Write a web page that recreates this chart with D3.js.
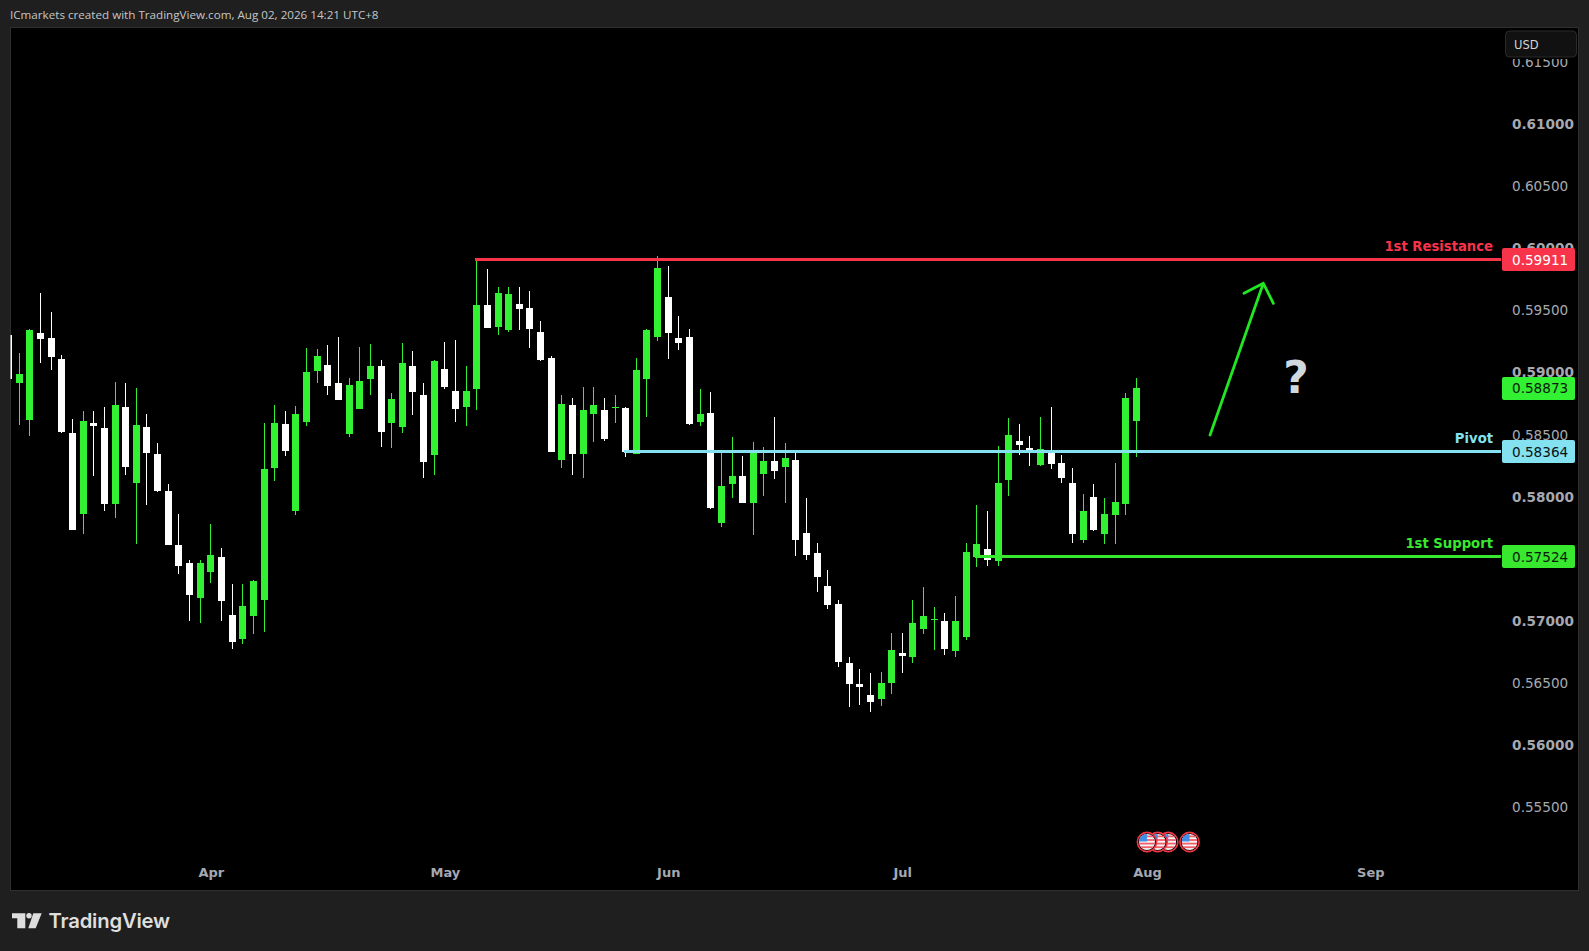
<!DOCTYPE html>
<html>
<head>
<meta charset="utf-8">
<title>Chart</title>
<script src="https://cdnjs.cloudflare.com/ajax/libs/d3/7.8.5/d3.min.js"></script>
<style>
  html, body { margin: 0; padding: 0; background: #1f1f1f; overflow: hidden; }
  svg { display: block; }
  text { font-family: "DejaVu Sans", sans-serif; }
</style>
</head>
<body>
<div id="chart"></div>
<script>
// daily candles (first one is cut by the left edge)
const opens = [
  .59303,.58916,.58618,.59319,.59279,.59110,.58513,.57860,.58594,.58554,.57941,.58723,.58110,.58562,.58344,.58046,.57610,.57465,
  .57183,.57393,.57514,.57046,.56853,.57038,.57167,.58231,.58586,.57884,.58602,.59013,.59061,.58916,.58505,.58707,.58949,.59053,
  .58594,.58562,.59053,.58820,.58336,.59029,.58852,.58723,.58868,.59545,.59368,.59344,.59553,.59521,.59327,.59118,.58296,.58739,
  .58344,.58666,.58699,.58715,.58715,.58344,.58949,.59287,.59610,.59279,.59287,.58602,.58674,.57788,.58102,.58167,.57949,.58183,
  .58288,.58239,.58296,.57707,.57546,.57280,.57135,.56659,.56490,.56401,.56369,.56498,.56740,.56708,.56933,.57006,.56998,.56756,
  .56869,.57514,.57578,.57481,.58134,.58449,.58392,.58255,.58368,.58271,.58110,.57651,.57997,.57699,.57852,.57941,.58610
];
const highs = [
  .59303,.59158,.59352,.59642,.59489,.59142,.58626,.58691,.58691,.58723,.58924,.58916,.58876,.58666,.58433,.58102,.57860,.57489,
  .57489,.57780,.57586,.57296,.57296,.57328,.58594,.58739,.58691,.58731,.59198,.59190,.59223,.59287,.58957,.59206,.59231,.59102,
  .58836,.59239,.59174,.58916,.59102,.59247,.59263,.59053,.59916,.59835,.59690,.59690,.59690,.59658,.59416,.59134,.58820,.58795,
  .58884,.58884,.58795,.58820,.58723,.59118,.59352,.59940,.59859,.59456,.59352,.58868,.58844,.58368,.58481,.58328,.58441,.58400,
  .58642,.58433,.58376,.57989,.57626,.57409,.57167,.56708,.56611,.56579,.56587,.56901,.56901,.57167,.57272,.57111,.57062,.57199,
  .57626,.57933,.57884,.58408,.58634,.58586,.58489,.58642,.58723,.58336,.58231,.58022,.58102,.57989,.58271,.58836,.58957
];
const lows = [
  .58949,.58578,.58489,.59077,.59021,.58513,.57731,.57699,.58167,.57884,.57828,.58175,.57618,.57933,.58038,.57610,.57377,.56998,
  .56982,.57304,.56998,.56772,.56812,.56893,.56909,.58126,.58328,.57852,.58570,.58916,.58820,.58779,.58481,.58707,.58820,.58400,
  .58392,.58513,.58658,.58150,.58175,.58868,.58602,.58570,.58699,.59360,.59303,.59327,.59344,.59198,.59094,.58360,.58231,.58175,
  .58150,.58441,.58449,.58594,.58320,.58344,.58642,.59255,.59110,.59182,.58578,.58570,.57901,.57755,.57989,.57949,.57691,.58005,
  .58142,.57949,.57522,.57489,.57232,.57094,.56627,.56304,.56321,.56264,.56313,.56409,.56579,.56659,.56893,.56764,.56724,.56708,
  .56845,.57433,.57441,.57441,.58005,.58336,.58247,.58247,.58223,.58110,.57626,.57626,.57723,.57618,.57618,.57852,.58320
];
const closes = [
  .58949,.58989,.59344,.59271,.59126,.58521,.57731,.58610,.58570,.57941,.58739,.58239,.58578,.58352,.58046,.57610,.57441,.57207,
  .57465,.57530,.57159,.56828,.57119,.57320,.58223,.58594,.58368,.58666,.59005,.59134,.58892,.58779,.58900,.58932,.59053,.58521,
  .58787,.59077,.58844,.58279,.59094,.58884,.58707,.58852,.59545,.59360,.59642,.59634,.59513,.59352,.59102,.58360,.58747,.58344,
  .58699,.58739,.58465,.58723,.58360,.59021,.59344,.59843,.59319,.59239,.58586,.58666,.57909,.58086,.58167,.57949,.58360,.58288,
  .58207,.58312,.57651,.57530,.57352,.57127,.56667,.56490,.56466,.56345,.56498,.56764,.56716,.56982,.57038,.57014,.56772,.56998,
  .57554,.57618,.57489,.58110,.58497,.58416,.58376,.58384,.58263,.58150,.57699,.57884,.57731,.57860,.57957,.58795,.58873
];

// axes
const monthLabels = ['Apr', 'May', 'Jun', 'Jul', 'Aug', 'Sep'];
const monthIndex = [19, 41, 62, 84, 107, 128];
const priceTicks = [.555, .56, .565, .57, .575, .58, .585, .59, .595, .6, .605, .61, .615];

// drawn levels
const levelNames = ['1st Resistance', 'Pivot', '1st Support'];
const levelPrices = [.59911, .58364, .57524];
const levelStart = [44, 58, 91];
const levelColors = ['#f7344a', '#84e1ef', '#38e82f'];
const levelText = ['#ffffff', '#0b1215', '#0b1a0b'];

// drawn arrow: shaft, then the two arms of the head
const arrowIndex = [112.93, 117.94, 116.12, 117.94, 118.88];
const arrowPrice = [.58497, .5972, .59639, .5972, .59559];

// US events
const flagIndex = [107, 108, 109, 111];

const W = 1589, H = 951;
const paneLeft = 10.5, paneRight = 1578.5, paneTop = 27.5, paneBottom = 890.5, scaleLeft = 1502;
const GREEN = '#32f032', WHITE = '#ffffff';

const svg = d3.select('#chart').append('svg').attr('width', W).attr('height', H);
const defs = svg.append('defs');

defs.append('clipPath').attr('id', 'pane')
  .append('rect')
  .attr('x', paneLeft).attr('y', paneTop)
  .attr('width', paneRight - paneLeft).attr('height', paneBottom - paneTop);
defs.append('clipPath').attr('id', 'labels')
  .append('rect')
  .attr('x', scaleLeft).attr('y', 59)
  .attr('width', paneRight - scaleLeft).attr('height', paneBottom - 59);
defs.append('clipPath').attr('id', 'flag')
  .append('circle').attr('r', 8);

const x = d3.scaleLinear().domain([0, 106]).range([8.69, 1136.33]);
const y = d3.scaleLinear().domain([.555, .615]).range([806.83, 62.47]);

// header
svg.append('text')
  .attr('x', 10).attr('y', 19)
  .style('font-family', '"Open Sans", sans-serif')
  .attr('font-size', '11.65px').attr('fill', '#c6c6c6')
  .text('ICmarkets created with TradingView.com, Aug 02, 2026 14:21 UTC+8');

// pane
svg.append('rect')
  .attr('x', paneLeft).attr('y', paneTop)
  .attr('width', paneRight - paneLeft).attr('height', paneBottom - paneTop)
  .attr('fill', '#000').attr('stroke', '#2f2f2f').attr('stroke-width', 1);

// candles
const candles = svg.append('g')
  .attr('clip-path', 'url(#pane)')
  .attr('shape-rendering', 'crispEdges');

const bodyX = i => Math.round(x(i) - 3.5);
const candleColor = i => closes[i] >= opens[i] ? GREEN : WHITE;

candles.selectAll('.wick').data(opens).join('rect')
  .attr('class', 'wick')
  .attr('x', (d, i) => bodyX(i) + 3)
  .attr('y', (d, i) => Math.round(y(highs[i])))
  .attr('width', 1)
  .attr('height', (d, i) => Math.round(y(lows[i])) - Math.round(y(highs[i])))
  .attr('fill', (d, i) => candleColor(i));

candles.selectAll('.body').data(opens).join('rect')
  .attr('class', 'body')
  .attr('x', (d, i) => bodyX(i))
  .attr('y', (d, i) => Math.round(y(Math.max(opens[i], closes[i]))))
  .attr('width', 7)
  .attr('height', (d, i) => Math.max(1, Math.round(y(Math.min(opens[i], closes[i]))) - Math.round(y(Math.max(opens[i], closes[i])))))
  .attr('fill', (d, i) => candleColor(i));

// price axis, whole hundredths are bold
const yAxis = svg.append('g')
  .attr('clip-path', 'url(#labels)')
  .append('g')
  .attr('transform', 'translate(1512,0)')
  .call(d3.axisRight(y).tickValues(priceTicks).tickFormat(d3.format('.5f')).tickSize(0).tickPadding(0));
yAxis.select('.domain').remove();
yAxis.selectAll('text')
  .attr('font-family', '"DejaVu Sans", sans-serif')
  .attr('font-size', '13.6px').attr('fill', '#a5a8b0')
  .attr('font-weight', d => Math.round(d * 1000) % 10 === 0 ? 700 : 400);

// time axis
const xAxis = svg.append('g')
  .attr('transform', 'translate(0,867.8)')
  .call(d3.axisBottom(x).tickValues(monthIndex)
    .tickFormat((d, i) => monthLabels[i]).tickSize(0).tickPadding(0));
xAxis.select('.domain').remove();
xAxis.selectAll('text')
  .attr('font-family', '"DejaVu Sans", sans-serif')
  .attr('font-size', '13px').attr('font-weight', 700).attr('fill', '#a5a8b0');

// levels
levelPrices.forEach((p, i) => {
  const ly = Math.round(y(p) + 0.35 - 1.5) + 1.5;
  svg.append('line')
    .attr('x1', x(levelStart[i]) - 1.5).attr('x2', scaleLeft - 1)
    .attr('y1', ly).attr('y2', ly)
    .attr('stroke', levelColors[i]).attr('stroke-width', 3)
    .attr('shape-rendering', 'crispEdges');

  svg.append('text')
    .attr('x', 1493).attr('y', ly - 9)
    .attr('text-anchor', 'end')
    .attr('font-size', '13.2px').attr('font-weight', 700)
    .attr('fill', levelColors[i])
    .text(levelNames[i]);

  svg.append('rect')
    .attr('x', scaleLeft).attr('y', ly - 11.5)
    .attr('width', 73).attr('height', 23).attr('rx', 2)
    .attr('fill', levelColors[i]);

  svg.append('text')
    .attr('x', 1512).attr('y', ly + 5)
    .attr('font-size', '13.6px')
    .attr('fill', levelText[i])
    .text(d3.format('.5f')(p));
});

// last price
const lastClose = closes[closes.length - 1];
svg.append('rect')
  .attr('x', scaleLeft).attr('y', y(lastClose) - 11.5)
  .attr('width', 73).attr('height', 23).attr('rx', 2)
  .attr('fill', GREEN);
svg.append('text')
  .attr('x', 1512).attr('y', y(lastClose) + 5)
  .attr('font-size', '13.6px').attr('fill', '#0b1a0b')
  .text(d3.format('.5f')(lastClose));

// arrow
const arrowLine = d3.line().x(d => x(d[0])).y(d => y(d[1]));
const arrowPts = arrowIndex.map((v, i) => [v, arrowPrice[i]]);
svg.append('path')
  .attr('d', arrowLine(arrowPts.slice(0, 2)) + arrowLine(arrowPts.slice(2)))
  .attr('fill', 'none')
  .attr('stroke', '#22e622').attr('stroke-width', 2.8)
  .attr('stroke-linecap', 'round').attr('stroke-linejoin', 'round');

svg.append('text')
  .attr('x', 1296).attr('y', 392.5)
  .attr('text-anchor', 'middle')
  .attr('font-size', '44px').attr('font-weight', 700)
  .attr('fill', '#d1d8e0')
  .text('?');

// USD box
svg.append('rect')
  .attr('x', 1505.5).attr('y', 31)
  .attr('width', 71).attr('height', 26).attr('rx', 4)
  .attr('fill', '#111111').attr('stroke', '#2b2b2b');
svg.append('text')
  .attr('x', 1514).attr('y', 49)
  .attr('font-size', '11.5px').attr('fill', '#d4d4d4')
  .text('USD');

// event flags, leftmost on top
const flags = svg.selectAll('.flag').data(flagIndex.slice().reverse()).join('g')
  .attr('class', 'flag')
  .attr('transform', d => `translate(${x(d)},842)`);
flags.append('circle')
  .attr('r', 9.6).attr('fill', '#000')
  .attr('stroke', '#f23645').attr('stroke-width', 1.6);
const flagBody = flags.append('g').attr('clip-path', 'url(#flag)');
flagBody.append('rect')
  .attr('x', -8).attr('y', -8).attr('width', 16).attr('height', 16)
  .attr('fill', '#f5f5f5');
flagBody.selectAll('.stripe').data(d3.range(4)).join('rect')
  .attr('class', 'stripe')
  .attr('x', -8).attr('y', d => -6.5 + d * 3.6)
  .attr('width', 16).attr('height', 1.8)
  .attr('fill', '#f0606a');
flagBody.append('rect')
  .attr('x', -8).attr('y', -8).attr('width', 8).attr('height', 7.5)
  .attr('fill', '#3f8fe8');

// logo
const logo = svg.append('g').attr('fill', '#dedede');
logo.append('path').attr('d', 'M12 913.3H25.3V928.3H17.3V918.3H12Z');
logo.append('circle').attr('cx', 29).attr('cy', 915.8).attr('r', 2.7);
logo.append('path').attr('d', 'M33.3 913.3H41.7L35.7 928.3H28.3Z');
svg.append('text')
  .attr('x', 48.5).attr('y', 927.5)
  .style('font-family', 'Inter, sans-serif')
  .attr('font-size', '20.3px').attr('font-weight', 600)
  .attr('letter-spacing', '-0.2')
  .attr('fill', '#dedede')
  .text('TradingView');
</script>
</body>
</html>
